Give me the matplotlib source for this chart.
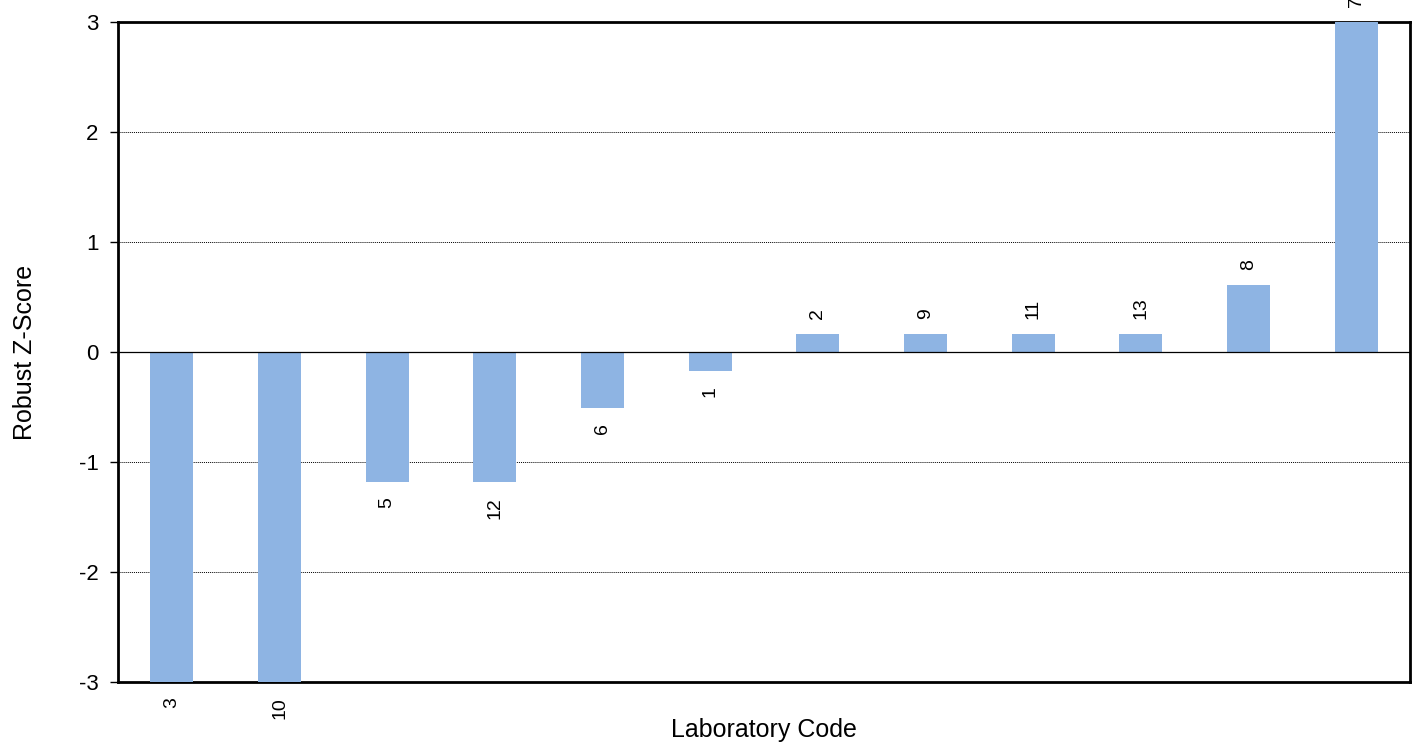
import numpy as np
import matplotlib.pyplot as plt

plt.rcParams['font.family'] = ['Liberation Sans', 'DejaVu Sans']

# ============================================
# DATA
# ============================================

lab_codes = ["3", "10", "5", "12", "6", "1", "2", "9", "11", "13", "8", "7"]
z_scores = [-3.0, -3.0, -1.18, -1.18, -0.51, -0.17, 0.16, 0.16, 0.16, 0.16, 0.61, 3.0]

BAR_COLOR = "#8EB4E3"

# ============================================
# PLOT
# ============================================

fig = plt.figure(figsize=(14.19, 7.51), dpi=100)
ax = fig.add_axes([0.0832, 0.0919, 0.9105, 0.8788])

x = np.arange(len(lab_codes))
ax.bar(x, z_scores, width=0.4, color=BAR_COLOR, zorder=3)

ax.set_xlim(-0.5, len(lab_codes) - 0.5)
ax.set_ylim(-3, 3)
ax.set_yticks([-3, -2, -1, 0, 1, 2, 3])
ax.set_yticklabels(["-3", "-2", "-1", "0", "1", "2", "3"], fontsize=16)
ax.set_xticks([])

# grid lines
for y in [-2, -1, 1, 2]:
    ax.axhline(y, color="black", linewidth=0.7, linestyle=(0, (1, 1)), zorder=1)
ax.axhline(0, color="black", linewidth=0.9, zorder=4)

for side in ["top", "bottom", "left", "right"]:
    ax.spines[side].set_linewidth(2)
ax.tick_params(axis="y", direction="out", length=6, width=1, pad=8)

# value labels
for xi, code, val in zip(x, lab_codes, z_scores):
    v = max(min(val, 3), -3)
    off = 11 if val >= 0 else -11
    ax.annotate(code, xy=(xi, v), xytext=(0, off), textcoords="offset points",
                rotation=90, ha="center", va="bottom" if val >= 0 else "top",
                fontsize=14, annotation_clip=False)

ax.set_ylabel("Robust Z-Score", fontsize=18, labelpad=30)
ax.set_xlabel("Laboratory Code", fontsize=18, labelpad=26)

plt.savefig("out.png", dpi=100)
